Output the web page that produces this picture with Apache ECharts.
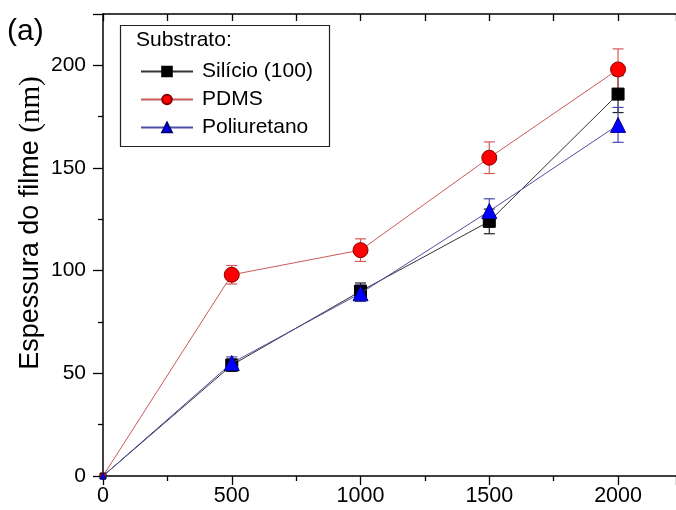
<!DOCTYPE html>
<html>
<head>
<meta charset="utf-8">
<script src="https://cdn.jsdelivr.net/npm/echarts@6/dist/echarts.min.js"></script>
<style>html,body{margin:0;padding:0;background:#fff}#c{width:676px;height:510px}</style>
</head>
<body>
<div id="c"></div>
<script>
var xValues = [0, 500, 1000, 1500, 2000];
var silicio = [0, 54, 90, 124, 186];
var silicioErr = [0, 3, 4, 6, 9];
var pdms = [0, 98, 110, 155, 198];
var pdmsErr = [0, 4.5, 5.5, 7.7, 10];
var poliuretano = [0, 55, 89, 129, 171];
var poliuretanoErr = [0, 3, 4, 6, 8.5];
var xTicks = [0, 500, 1000, 1500, 2000];
var yTicks = [0, 50, 100, 150, 200];
var legendTitle = 'Substrato:';

var FONT = '"Liberation Sans", Arial, sans-serif';

function pairs(ys) { return xValues.map(function (x, i) { return [x, ys[i]]; }); }
function errData(ys, es) { return xValues.map(function (x, i) { return [x, ys[i], es[i]]; }); }

function errSeries(name, ys, es, color) {
  return {
    type: 'custom', name: name + '_err', data: errData(ys, es), z: 1, silent: true,
    renderItem: function (params, api) {
      var x = api.value(0), y = api.value(1), e = api.value(2);
      if (!e) return null;
      var top = api.coord([x, y + e]);
      var bot = api.coord([x, y - e]);
      var w = 5.5;
      var st = { stroke: color, lineWidth: 1.2 };
      return {
        type: 'group', children: [
          { type: 'line', shape: { x1: top[0], y1: top[1], x2: bot[0], y2: bot[1] }, style: st },
          { type: 'line', shape: { x1: top[0] - w, y1: top[1], x2: top[0] + w, y2: top[1] }, style: st },
          { type: 'line', shape: { x1: bot[0] - w, y1: bot[1], x2: bot[0] + w, y2: bot[1] }, style: st }
        ]
      };
    }
  };
}
function sz(big) { return function (v) { return v[0] === 0 ? 6 : big; }; }

var chart = echarts.init(document.getElementById('c'));
chart.setOption({
  animation: false,
  backgroundColor: '#fff',
  grid: { left: 103, right: -4, top: 14, bottom: 34, containLabel: false },
  xAxis: [{
    type: 'value', min: 0, max: 2225, interval: 500, position: 'bottom',
    axisLine: { show: true, lineStyle: { color: '#000', width: 1.5 } },
    axisTick: { show: true, length: 9, lineStyle: { color: '#000', width: 1.3 } },
    minorTick: { show: true, splitNumber: 2, length: 5, lineStyle: { color: '#000', width: 1.3 } },
    axisLabel: { color: '#000', fontSize: 21.5, fontFamily: FONT, margin: 9, showMaxLabel: false,
      formatter: function (v) { return xTicks.indexOf(v) >= 0 ? String(v) : ''; } },
    splitLine: { show: false }
  }, {
    type: 'value', min: 0, max: 2225, interval: 250, position: 'top',
    axisLine: { show: true, onZero: false, lineStyle: { color: '#000', width: 1.5 } },
    axisTick: { show: true, inside: true, length: 7, lineStyle: { color: '#000', width: 1.3 } },
    axisLabel: { show: false }, splitLine: { show: false }
  }],
  yAxis: [{
    type: 'value', min: 0, max: 225, interval: 50,
    axisLine: { show: true, lineStyle: { color: '#000', width: 1.5 } },
    axisTick: { show: true, length: 10, lineStyle: { color: '#000', width: 1.3 } },
    minorTick: { show: true, splitNumber: 2, length: 5, lineStyle: { color: '#000', width: 1.3 } },
    axisLabel: { color: '#000', fontSize: 21, fontFamily: FONT, margin: 17, showMaxLabel: false,
      formatter: function (v) { return yTicks.indexOf(v) >= 0 ? String(v) : ''; } },
    splitLine: { show: false }
  }],
  legend: {
    orient: 'vertical', left: 135, top: 56, itemWidth: 52, itemHeight: 12, itemGap: 7,
    data: ['Silício (100)', 'PDMS', 'Poliuretano'],
    textStyle: { color: '#000', fontSize: 21, fontFamily: FONT, padding: [0, 0, 0, 4] },
    selectedMode: false
  },
  graphic: [
    { type: 'rect', left: 118, top: 23, shape: { width: 209, height: 121 },
      style: { fill: 'none', stroke: '#222', lineWidth: 1.2 }, z: 10 },
    { type: 'text', left: 136, top: 30, style: { text: legendTitle, fill: '#000', font: '21px ' + FONT }, z: 10 },
    { type: 'text', left: 7, top: 17, style: { text: '(a)', fill: '#000', font: '30px ' + FONT }, z: 10 },
    { type: 'text', x: 31, y: 223, rotation: Math.PI / 2,
      style: { text: 'Espessura do filme {s|(nm)}', fill: '#000', font: '27px ' + FONT,
        align: 'center', verticalAlign: 'middle',
        rich: { s: { fontFamily: '"Liberation Serif", "Times New Roman", serif', fontSize: 29, fill: '#000' } } }, z: 10 }
  ],
  series: [
    errSeries('Silício (100)', silicio, silicioErr, '#222'),
    errSeries('PDMS', pdms, pdmsErr, '#d45a5a'),
    errSeries('Poliuretano', poliuretano, poliuretanoErr, '#4848b0'),
    { type: 'line', name: 'Silício (100)', data: pairs(silicio), symbol: 'rect', symbolSize: sz(12), z: 3,
      lineStyle: { color: '#333', width: 1 }, itemStyle: { color: '#000', borderColor: '#000', borderWidth: 1 } },
    { type: 'line', name: 'PDMS', data: pairs(pdms), symbol: 'circle', symbolSize: sz(15), z: 3,
      lineStyle: { color: '#c85a5a', width: 1 }, itemStyle: { color: '#ff0000', borderColor: '#8a0000', borderWidth: 1 } },
    { type: 'line', name: 'Poliuretano', data: pairs(poliuretano), symbol: 'triangle', symbolSize: sz(15), z: 4,
      lineStyle: { color: '#5050a8', width: 1 }, itemStyle: { color: '#0000ff', borderColor: '#000080', borderWidth: 1 } }
  ]
});
</script>
</body>
</html>
